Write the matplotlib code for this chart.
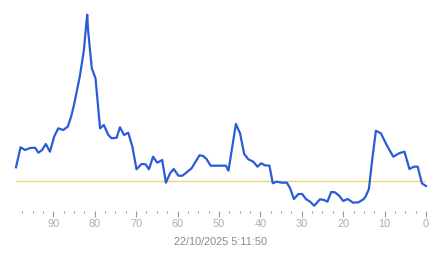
import matplotlib
matplotlib.use("Agg")
import matplotlib.pyplot as plt
from matplotlib.ticker import MultipleLocator

# age (units ago) of each vertex, newest = 0
ages = [99.0, 97.9, 96.8, 95.6, 94.4, 93.6, 92.7, 91.8, 90.8, 89.8,
        88.8, 87.6, 86.5, 85.7, 85.0, 83.6, 82.6, 82.1, 81.8, 81.6,
        80.7, 79.8, 78.7, 77.8, 76.7, 75.9, 74.7, 73.9, 72.9, 71.9,
        70.9, 69.9, 68.7, 67.7, 66.9, 65.9, 64.9, 63.7, 62.8, 61.8,
        60.9, 59.8, 58.8, 56.6, 54.7, 53.8, 53.0, 52.0, 49.7, 48.3,
        47.7, 45.9, 44.9, 43.9, 42.9, 41.7, 40.7, 39.8, 38.9, 37.8,
        37.0, 36.1, 34.8, 33.6, 32.8, 31.9, 30.8, 29.9, 29.0, 28.0,
        27.0, 25.6, 24.6, 23.8, 22.9, 22.0, 20.9, 20.0, 18.9, 17.6,
        16.3, 15.1, 14.6, 13.8, 13.0, 12.1, 10.9, 9.5, 7.9, 6.5,
        5.2, 4.0, 2.9, 2.0, 1.0, 0.0]

values = [14.0, 34.0, 31.3, 33.3, 33.6, 28.6, 31.3, 37.3, 29.6, 44.6,
          53.0, 51.3, 54.6, 64.6, 76.3, 104.6, 131.3, 154.6, 166.6, 151.3,
          113.0, 103.0, 53.0, 56.3, 46.3, 43.0, 43.6, 54.0, 46.3, 48.6,
          34.6, 12.0, 17.3, 17.0, 12.0, 24.6, 18.6, 21.3, -1.4, 8.0,
          12.3, 5.6, 5.6, 13.0, 26.0, 25.3, 22.3, 15.6, 15.6, 15.6,
          10.6, 57.3, 48.0, 27.3, 22.0, 19.6, 14.6, 18.0, 16.0, 15.6,
          -2.0, -0.4, -1.4, -1.4, -7.0, -17.7, -12.7, -12.7, -17.7, -20.4,
          -24.4, -18.0, -18.7, -20.4, -10.7, -11.0, -14.7, -19.7, -17.7, -21.4,
          -21.0, -18.0, -15.4, -8.0, 21.3, 50.6, 48.0, 36.3, 24.6, 28.0,
          29.6, 12.3, 14.6, 14.6, -2.0, -4.7]

baseline = 0.0
major_ticks = [90, 80, 70, 60, 50, 40, 30, 20, 10, 0]
tick_labels = [str(t) for t in major_ticks]
x_title = "22/10/2025 5:11:50"

W, H = 443, 258
fig = plt.figure(figsize=(W / 100, H / 100), dpi=100)
left_px, right_px, top_px, bottom_px = 16, 426, 10, 211
ax = fig.add_axes([left_px / W, 1 - bottom_px / H,
                   (right_px - left_px) / W, (bottom_px - top_px) / H])

ax.axhline(baseline, color="#eed77a", lw=1.0, zorder=1)
ax.plot(ages, values, color="#2b5cd8", lw=1.6, zorder=2, clip_on=False,
        solid_joinstyle="round")

ax.set_xlim(99, 0)
ax.set_ylim(-29.7, 171.3)

for s in ax.spines.values():
    s.set_visible(False)
ax.set_yticks([])
ax.set_xticks(major_ticks)
ax.set_xticklabels(tick_labels)
ax.xaxis.set_minor_locator(MultipleLocator(2.5))
ax.tick_params(axis="x", which="major", direction="out", length=4.0, width=0.8,
               color="#9a9a9a", labelcolor="#adadad", labelsize=7.9, pad=2.0)
ax.tick_params(axis="x", which="minor", direction="out", length=1.4, width=0.8,
               color="#9a9a9a")
for lbl in ax.get_xticklabels():
    lbl.set_fontfamily("Liberation Sans")

ax.set_xlabel(x_title, fontsize=7.8, color="#8a8a8a", labelpad=5.5,
              fontfamily="Liberation Sans")

fig.savefig("out.png", dpi=100, facecolor="white")
